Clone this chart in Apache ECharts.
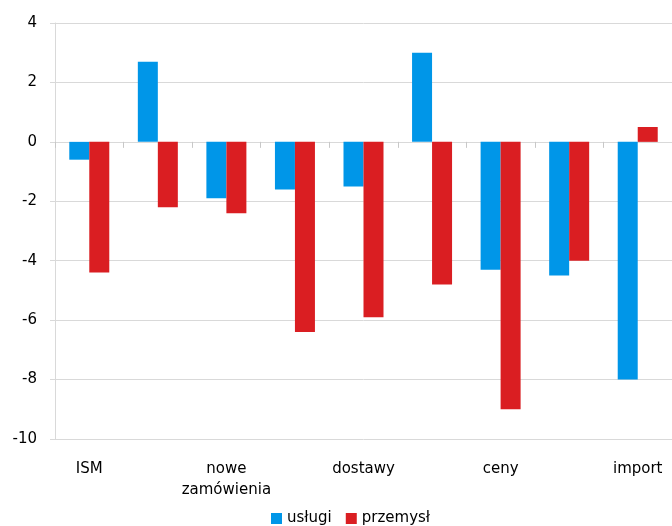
<!DOCTYPE html>
<html>
<head>
<meta charset="utf-8">
<script src="https://cdn.jsdelivr.net/npm/echarts@6/dist/echarts.min.js"></script>
<style>
  html, body { margin: 0; padding: 0; background: #fff; }
  #chart { width: 672px; height: 526px; }
</style>
</head>
<body>
<div id="chart"></div>
<script>
// Survey components; every other name is printed on the axis
const categories = ['ISM', 'aktywność', 'nowe\nzamówienia', 'zatrudnienie', 'dostawy', 'zapasy', 'ceny', 'eksport', 'import'];
const uslugi = [-0.6, 2.7, -1.9, -1.6, -1.5, 3.0, -4.3, -4.5, -8.0];
const przemysl = [-4.4, -2.2, -2.4, -6.4, -5.9, -4.8, -9.0, -4.0, 0.5];
const yMin = -10, yMax = 4, yStep = 2;

const FONT = 'DejaVu Sans';
const GRID_COLOR = '#d9d9d9';
const TEXT_COLOR = '#000';

const chart = echarts.init(document.getElementById('chart'), null, { renderer: 'canvas' });
chart.setOption({
  animation: false,
  textStyle: { fontFamily: FONT },
  grid: { left: 55, top: 23, bottom: 87, right: -6, containLabel: false },
  legend: {
    left: 271, top: 511, padding: 0,
    icon: 'rect', itemWidth: 11, itemHeight: 11, itemGap: 14,
    textStyle: { fontFamily: FONT, fontSize: 15, color: TEXT_COLOR },
    data: ['usługi', 'przemysł']
  },
  xAxis: [
    {
      // labels along the bottom edge
      type: 'category', data: categories, position: 'bottom',
      axisLine: { show: false, onZero: false }, axisTick: { show: false },
      axisLabel: { interval: 1, margin: 20, fontFamily: FONT, fontSize: 15, color: TEXT_COLOR, lineHeight: 21 }
    },
    {
      // baseline with category ticks at zero
      type: 'category', data: categories, position: 'top',
      axisLine: { show: true, onZero: true, lineStyle: { color: GRID_COLOR, width: 1 } },
      axisTick: { show: true, interval: 0, inside: true, length: 6, lineStyle: { color: '#c8c8c8' } },
      axisLabel: { show: false }
    }
  ],
  yAxis: {
    type: 'value', min: yMin, max: yMax, interval: yStep,
    axisLine: { show: true, lineStyle: { color: GRID_COLOR } },
    axisTick: { show: true, length: 5, lineStyle: { color: GRID_COLOR } },
    splitLine: { show: true, lineStyle: { color: GRID_COLOR } },
    axisLabel: { margin: 18, fontFamily: FONT, fontSize: 15, color: TEXT_COLOR }
  },
  series: [
    {
      name: 'usługi', type: 'bar', data: uslugi, xAxisIndex: 0,
      barWidth: 20, barGap: '0%',
      itemStyle: { color: '#0096e8' }
    },
    {
      name: 'przemysł', type: 'bar', data: przemysl, xAxisIndex: 0,
      barWidth: 20, barGap: '0%',
      itemStyle: { color: '#da1e22' }
    }
  ]
});
</script>
</body>
</html>
